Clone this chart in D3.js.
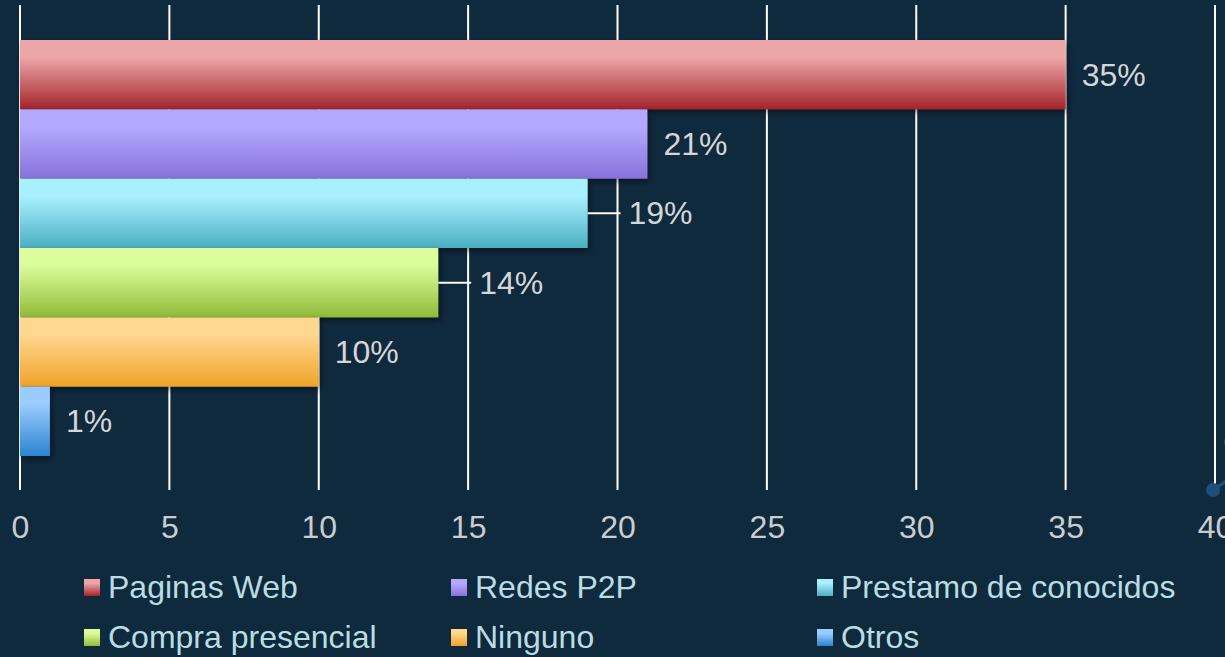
<!DOCTYPE html>
<html>
<head>
<meta charset="utf-8">
<script src="https://cdn.jsdelivr.net/npm/d3@7/dist/d3.min.js"></script>
<style>
  html, body { margin: 0; padding: 0; background: #0f293d; }
  svg { display: block; font-family: "Liberation Sans", Arial, sans-serif; }
</style>
</head>
<body>
<svg id="chart"></svg>
<script>
var categories = ['Paginas Web', 'Redes P2P', 'Prestamo de conocidos', 'Compra presencial', 'Ninguno', 'Otros'];
var values = [35, 21, 19, 14, 10, 1];
var valueLabels = ['35%', '21%', '19%', '14%', '10%', '1%'];
var tickValues = [0, 5, 10, 15, 20, 25, 30, 35, 40];
var lightColors = ['#eca6a7', '#b4a9ff', '#a8f0ff', '#dcfd9b', '#ffd78f', '#9accff'];
var darkColors = ['#a2252a', '#8872da', '#4aafc2', '#8fbb38', '#f0a328', '#2a84d0'];

var width = 1225;
var height = 657;
var plotLeft = 20;
var plotRight = 1215;
var gridTop = 5;
var gridBottom = 490;
var barTop = 40;
var barBottom = 456;
var fontSize = 32;

var svg = d3.select('#chart')
  .attr('width', width)
  .attr('height', height);

svg.append('rect')
  .attr('width', width)
  .attr('height', height)
  .attr('fill', '#0f293d');

var x = d3.scaleLinear()
  .domain([0, 40])
  .range([plotLeft, plotRight]);

var y = d3.scaleBand()
  .domain(categories)
  .range([barTop, barBottom])
  .padding(0);

var defs = svg.append('defs');

categories.forEach(function(c, i) {
  var g = defs.append('linearGradient')
    .attr('id', 'grad-' + i)
    .attr('x1', 0).attr('y1', 0)
    .attr('x2', 0).attr('y2', 1);
  g.append('stop').attr('offset', '0%').attr('stop-color', lightColors[i]);
  g.append('stop').attr('offset', '25%').attr('stop-color', lightColors[i]);
  g.append('stop').attr('offset', '100%').attr('stop-color', darkColors[i]);
});

var shadow = defs.append('filter')
  .attr('id', 'shadow')
  .attr('x', '-10%').attr('y', '-10%')
  .attr('width', '130%').attr('height', '150%');
shadow.append('feDropShadow')
  .attr('dx', 2).attr('dy', 3)
  .attr('stdDeviation', 3)
  .attr('flood-color', '#000')
  .attr('flood-opacity', 0.45);

// gridlines
svg.append('g')
  .selectAll('line')
  .data(tickValues)
  .enter().append('line')
    .attr('x1', function(d) { return x(d); })
    .attr('x2', function(d) { return x(d); })
    .attr('y1', gridTop)
    .attr('y2', gridBottom)
    .attr('stroke', '#ffffff')
    .attr('stroke-width', 2);

// decoration near the right end
var deco = svg.append('g');
deco.append('line')
  .attr('x1', x(40) - 2).attr('y1', gridBottom)
  .attr('x2', x(40) + 20).attr('y2', gridBottom - 15)
  .attr('stroke', '#1d4f7a').attr('stroke-width', 3);
deco.append('circle')
  .attr('cx', x(40) - 2).attr('cy', gridBottom)
  .attr('r', 7).attr('fill', '#1d4f7a');
deco.append('circle')
  .attr('cx', x(40) + 16).attr('cy', gridBottom - 48)
  .attr('r', 7).attr('fill', '#1d4f7a');

// bars
svg.append('g')
  .selectAll('rect')
  .data(values)
  .enter().append('rect')
    .attr('x', x(0))
    .attr('y', function(d, i) { return y(categories[i]); })
    .attr('width', function(d) { return x(d) - x(0); })
    .attr('height', y.bandwidth())
    .attr('fill', function(d, i) { return 'url(#grad-' + i + ')'; })
    .attr('filter', 'url(#shadow)');

// value labels; pushed past a gridline when it would collide
function labelX(d) {
  var next = Math.ceil(d / 5) * 5;
  if (next > d && next - d < 1.5) return x(next) + 11;
  return x(d) + 16;
}

var labels = svg.append('g');
values.forEach(function(d, i) {
  var cy = y(categories[i]) + y.bandwidth() / 2;
  var lx = labelX(d);
  if (lx - x(d) > 20) {
    labels.append('line')
      .attr('x1', x(d)).attr('x2', lx - 8)
      .attr('y1', cy).attr('y2', cy)
      .attr('stroke', '#ffffff').attr('stroke-width', 2);
  }
  labels.append('text')
    .attr('x', lx)
    .attr('y', cy + 11)
    .attr('fill', '#d4d6d8')
    .attr('font-size', fontSize)
    .text(valueLabels[i]);
});

// x axis labels
var xAxis = d3.axisBottom(x)
  .tickValues(tickValues)
  .tickSize(0)
  .tickPadding(0);

var axisG = svg.append('g')
  .attr('transform', 'translate(0,' + (gridBottom + 25) + ')')
  .call(xAxis);
axisG.select('.domain').remove();
axisG.selectAll('text')
  .attr('fill', '#c9cdd0')
  .attr('font-size', fontSize)
  .attr('font-family', '"Liberation Sans", Arial, sans-serif');

// legend
var legendCols = [84, 451, 817];
var legendRows = [598, 648];
var legend = svg.append('g');
categories.forEach(function(c, i) {
  var lxp = legendCols[i % 3];
  var lyp = legendRows[Math.floor(i / 3)];
  legend.append('rect')
    .attr('x', lxp)
    .attr('y', lyp - 19)
    .attr('width', 16)
    .attr('height', 17)
    .attr('fill', 'url(#grad-' + i + ')');
  legend.append('text')
    .attr('x', lxp + 24)
    .attr('y', lyp)
    .attr('fill', '#b9dde2')
    .attr('font-size', fontSize)
    .text(c);
});
</script>
</body>
</html>
